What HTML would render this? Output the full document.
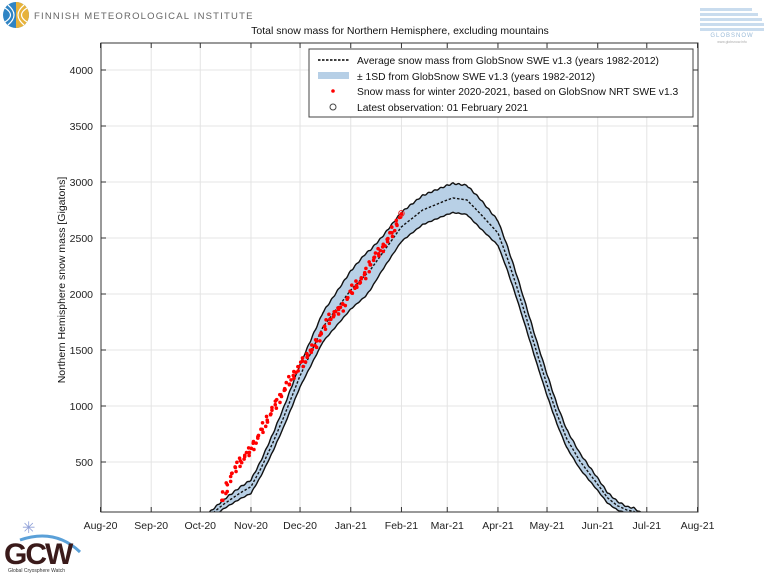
<!DOCTYPE html>
<html><head><meta charset="utf-8"><style>
html,body{margin:0;padding:0;background:#fff;}
svg{display:block;font-family:"Liberation Sans",sans-serif;}
</style></head><body>
<svg id="s" width="768" height="576" viewBox="0 0 768 576" xmlns="http://www.w3.org/2000/svg">
<defs><clipPath id="c"><rect x="101" y="43" width="597" height="469"/></clipPath></defs>
<rect width="768" height="576" fill="#fff"/>
<rect x="101" y="43" width="597" height="469" fill="#fff"/>
<g id="grid" stroke="#e4e4e4" stroke-width="1"></g>
<g id="band" clip-path="url(#c)"></g>
<g id="dots" clip-path="url(#c)"></g>
<rect x="101" y="43" width="597" height="469" fill="none" stroke="#333" stroke-width="1"/>
<g id="ticks" stroke="#333" stroke-width="1"></g>
<g id="labels" font-size="10.5" fill="#222"></g>
<text x="400" y="34" font-size="10.5" text-anchor="middle" fill="#111">Total snow mass for Northern Hemisphere, excluding mountains</text>
<text transform="translate(65,280) rotate(-90)" font-size="10.5" text-anchor="middle" fill="#111">Northern Hemisphere snow mass [Gigatons]</text>
<rect x="309" y="49" width="384" height="68" fill="#fff" stroke="#444" stroke-width="1"/>
<line x1="318" y1="60" x2="349" y2="60" stroke="#000" stroke-width="1.6" stroke-dasharray="2.5,1.5"/>
<rect x="318" y="72" width="31" height="7" fill="#b6cfe6"/>
<circle cx="333" cy="91" r="1.8" fill="#f00"/>
<circle cx="333" cy="107" r="3" fill="none" stroke="#444" stroke-width="1"/>
<g font-size="10.3" fill="#111">
<text x="357" y="64">Average snow mass from GlobSnow SWE v1.3 (years 1982-2012)</text>
<text x="357" y="80">± 1SD from GlobSnow SWE v1.3 (years 1982-2012)</text>
<text x="357" y="95">Snow mass for winter 2020-2021, based on GlobSnow NRT SWE v1.3</text>
<text x="357" y="111">Latest observation: 01 February 2021</text>
</g>
<circle cx="16" cy="15" r="13" fill="#2f84c4"/>
<path d="M16 2 A13 13 0 0 1 16 28 Z" fill="#e7b23a"/>
<g stroke="#fff" stroke-width="1.2" fill="none">
<path d="M5 8 Q16 15 5 22"/><path d="M8 5 Q20 15 8 25"/><path d="M27 8 Q16 15 27 22"/><path d="M24 5 Q12 15 24 25"/>
</g>
<text x="34" y="19" font-size="9.5" fill="#666" letter-spacing="1.2">FINNISH METEOROLOGICAL INSTITUTE</text>
<g fill="#c9dcee">
<rect x="700" y="8" width="52" height="3"/><rect x="700" y="13" width="58" height="3"/><rect x="700" y="18" width="62" height="3"/><rect x="700" y="23" width="64" height="3"/><rect x="700" y="28" width="64" height="3"/>
</g>
<text x="732" y="37" font-size="6" fill="#9bbbd8" text-anchor="middle" letter-spacing="1">GLOBSNOW</text>
<text x="732" y="43" font-size="3.5" fill="#aaa" text-anchor="middle">www.globsnow.info</text>
<text x="22" y="533" font-size="16" fill="#8fa0d8">✳</text>
<path d="M20 540 Q55 528 80 552" stroke="#5aa0d8" stroke-width="3" fill="none"/>
<text x="4" y="564" font-size="30" font-weight="bold" fill="#3a1a1a" letter-spacing="-2">GCW</text>
<text x="8" y="572" font-size="5" fill="#333">Global Cryosphere Watch</text>
</svg>
<script>
(function(){
var NS="http://www.w3.org/2000/svg";
function X(d){return 100.5+d*1.6356;}
function Y(v){return 518-v*0.112;}
function el(p,t,a){var e=document.createElementNS(NS,t);for(var k in a)e.setAttribute(k,a[k]);document.getElementById(p).appendChild(e);return e;}
var months=[["Aug-20",0],["Sep-20",31],["Oct-20",61],["Nov-20",92],["Dec-20",122],["Jan-21",153],["Feb-21",184],["Mar-21",212],["Apr-21",243],["May-21",273],["Jun-21",304],["Jul-21",334],["Aug-21",365]];
months.forEach(function(m){var x=X(m[1]);
 if(m[1]>0&&m[1]<365)el("grid","line",{x1:x,y1:43,x2:x,y2:512});
 el("ticks","line",{x1:x,y1:512,x2:x,y2:507});el("ticks","line",{x1:x,y1:43,x2:x,y2:48});
 var t=el("labels","text",{x:x,y:529,"text-anchor":"middle"});t.textContent=m[0];});
for(var v=500;v<=4000;v+=500){var y=Y(v);
 el("grid","line",{x1:101,y1:y,x2:698,y2:y});
 el("ticks","line",{x1:101,y1:y,x2:106,y2:y});el("ticks","line",{x1:698,y1:y,x2:693,y2:y});
 var t=el("labels","text",{x:93,y:y+4,"text-anchor":"end"});t.textContent=v;}
var M=[[55,-60],[65,0],[75,120],[85,220],[92,280],[98,440],[105,660],[112,900],[122,1270],[136,1705],[153,2035],[165,2215],[184,2600],[197,2750],[212,2840],[215.5,2857],[224,2840],[232,2720],[243,2545],[248.5,2330],[254.6,2060],[260.7,1770],[266.9,1470],[273,1190],[279,930],[285,710],[293,510],[304,300],[310,180],[316,110],[322,70],[326,60],[330,20],[337,-30]];
var S=[[55,20],[75,40],[92,60],[122,100],[140,140],[153,170],[162,190],[172,150],[184,130],[212,130],[232,130],[243,110],[273,95],[293,70],[304,55],[322,30],[337,30]];
function interp(A,d){if(d<=A[0][0])return A[0][1];for(var i=1;i<A.length;i++){if(d<=A[i][0]){var a=A[i-1],b=A[i];return a[1]+(b[1]-a[1])*(d-a[0])/(b[0]-a[0]);}}return A[A.length-1][1];}
var up=[],lo=[],mid=[];
for(var d=55;d<=337;d+=0.5){var m=interp(M,d),s=interp(S,d);var w=Math.sin(d*1.7)*6;
 up.push([X(d),Y(m+s+w)]);lo.push([X(d),Y(m-s+w*0.5)]);mid.push([X(d),Y(m)]);}
function P(a){return a.map(function(p,i){return (i?"L":"M")+p[0].toFixed(1)+" "+p[1].toFixed(1);}).join("");}
el("band","path",{d:P(up)+lo.slice().reverse().map(function(p){return "L"+p[0].toFixed(1)+" "+p[1].toFixed(1);}).join("")+"Z",fill:"#b8d0e6"});
el("band","path",{d:P(up),fill:"none",stroke:"#111","stroke-width":1.4});
el("band","path",{d:P(lo),fill:"none",stroke:"#111","stroke-width":1.4});
el("band","path",{d:P(mid),fill:"none",stroke:"#111","stroke-width":1.4,"stroke-dasharray":"2.5,1.8"});
var R=[[74,160],[76,223],[80,384],[85,500],[91,590],[97,740],[105,964],[116,1232],[121,1340],[132,1562],[140,1785],[148,1884],[155,2062],[161,2150],[166,2300],[173,2420],[179,2570],[184,2720]];
for(var d=74;d<=184;d+=0.7){var v=interp(R,d)+Math.sin(d*3.1)*30;var dx=Math.cos(d*2.3)*1.5;
 el("dots","circle",{cx:X(d)+dx,cy:Y(v),r:1.8,fill:"#f00"});}
el("dots","circle",{cx:X(184),cy:Y(2720),r:2.8,fill:"none",stroke:"#d33","stroke-width":1});
})();
</script>
</body></html>
